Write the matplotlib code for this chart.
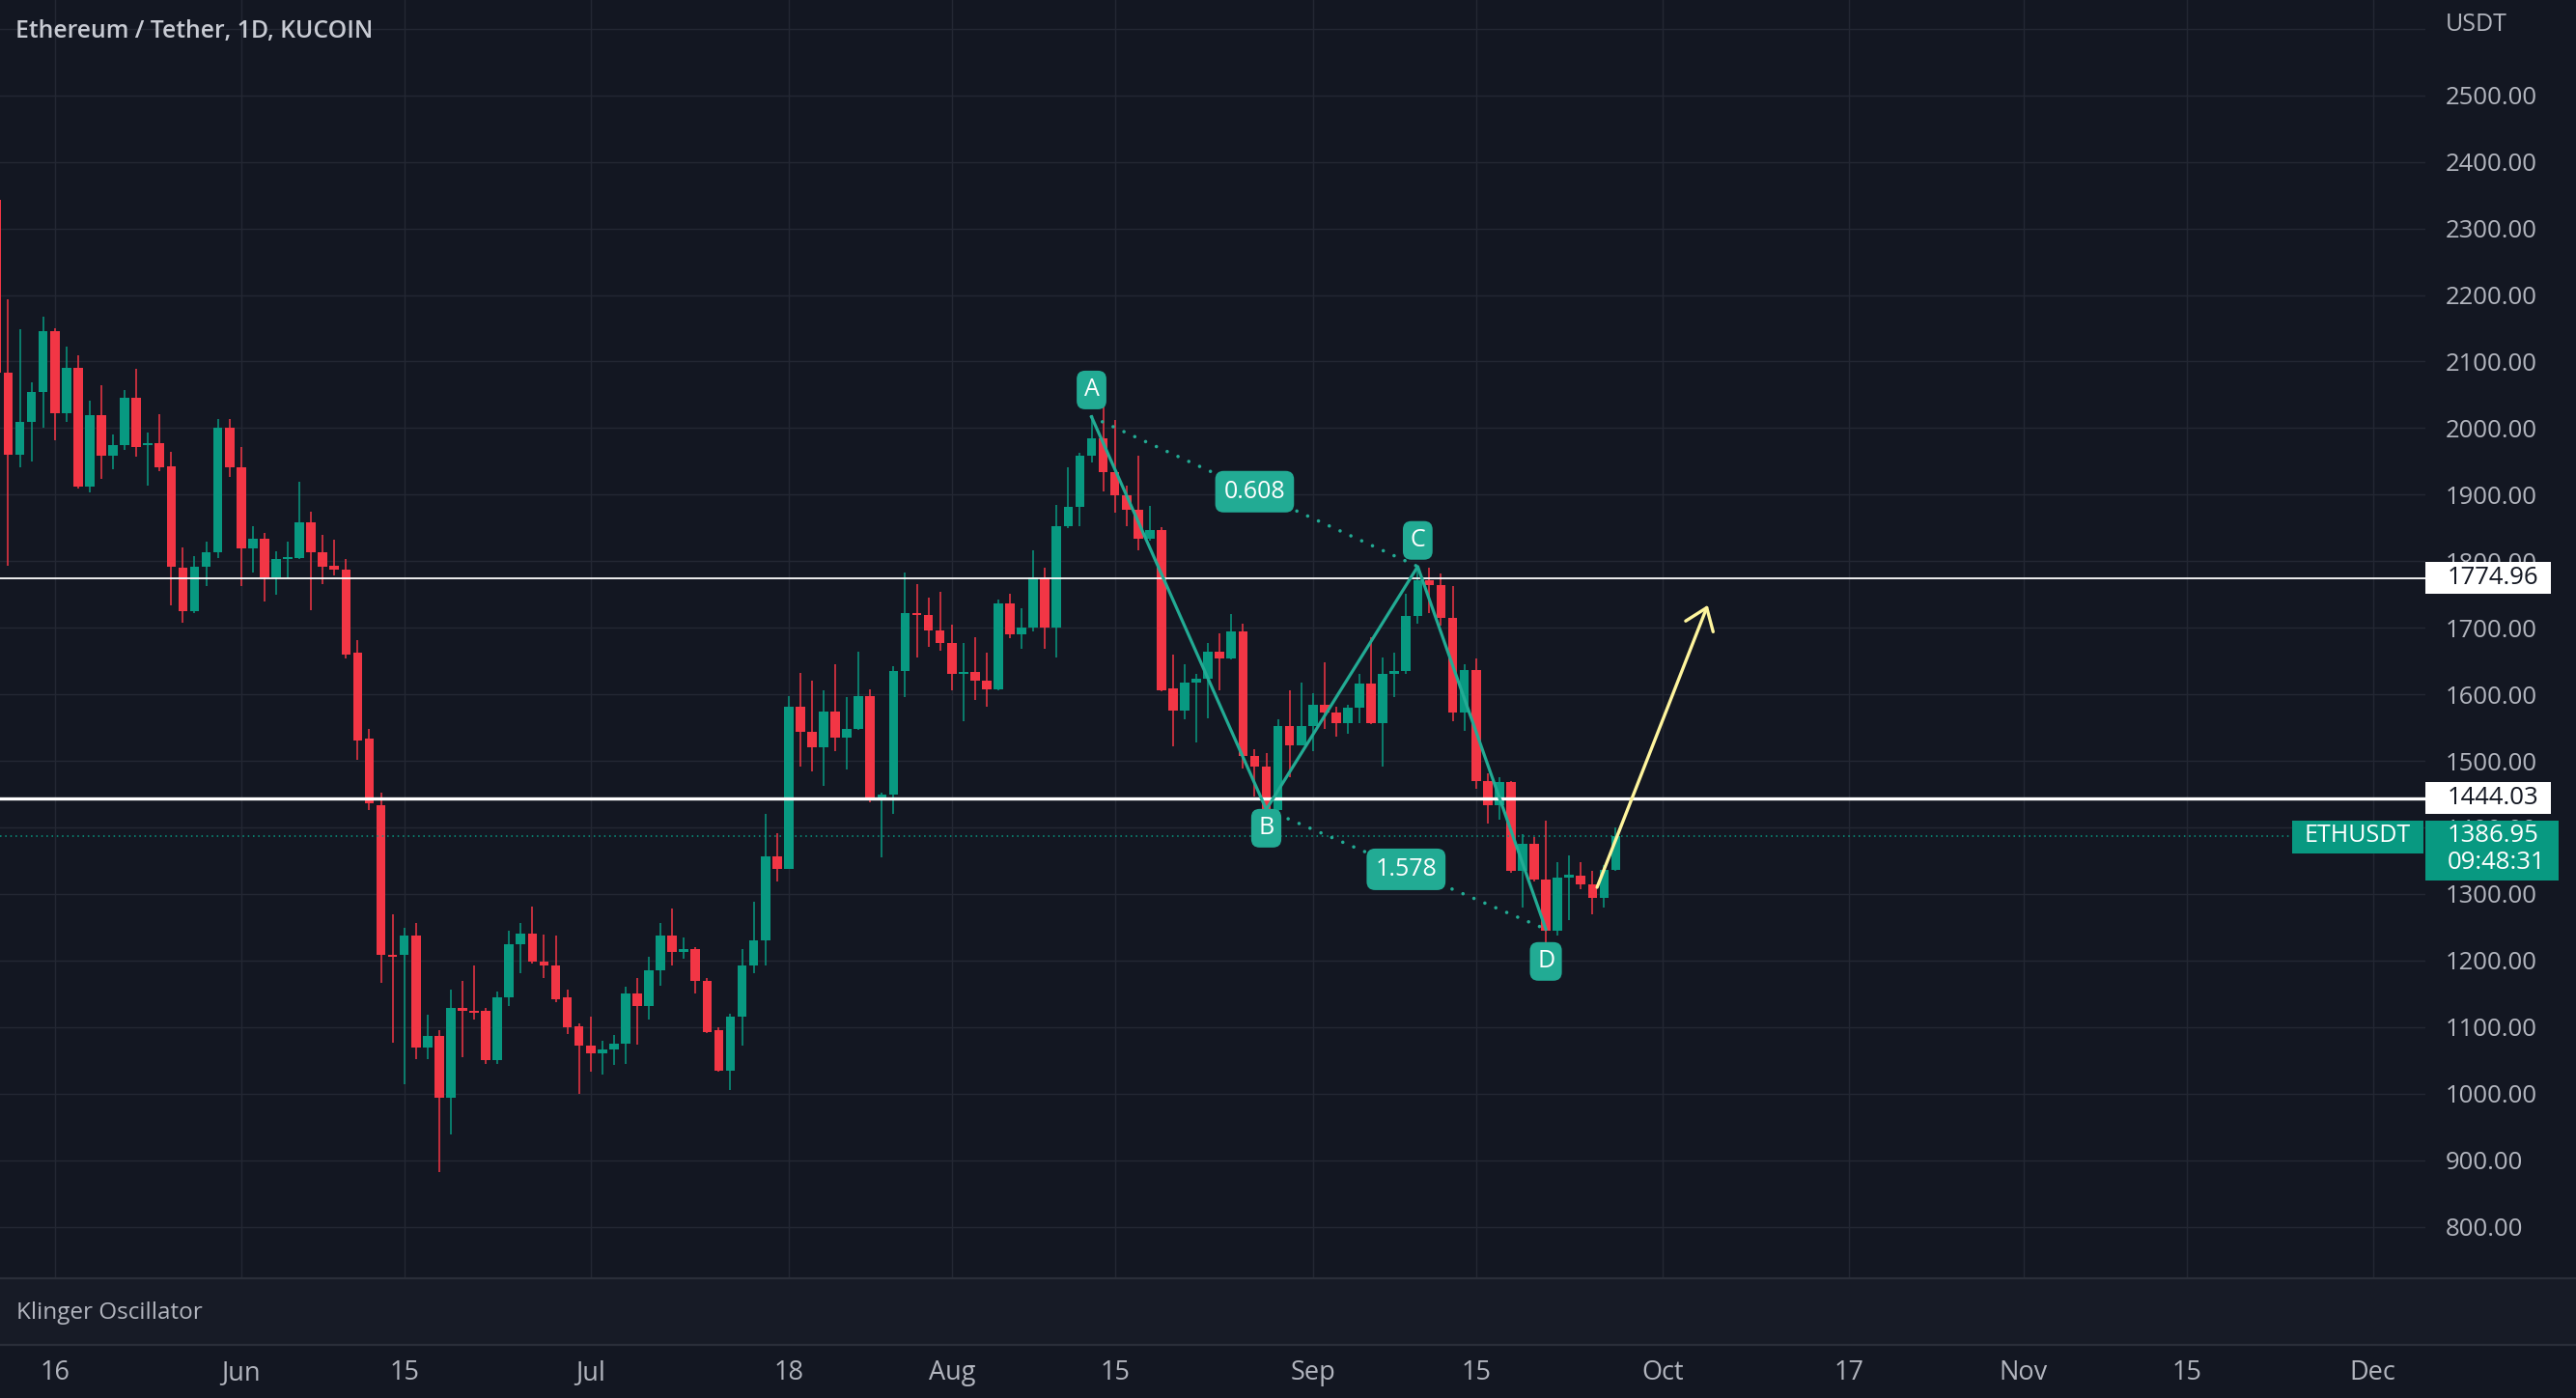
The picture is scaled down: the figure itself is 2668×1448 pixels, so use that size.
import numpy as np
import pandas as pd
import matplotlib
matplotlib.use("Agg")
import matplotlib.pyplot as plt
import matplotlib.dates as mdates
from matplotlib.patches import Rectangle
from matplotlib.lines import Line2D
from matplotlib.transforms import blended_transform_factory

plt.rcParams['font.family'] = ['Open Sans', 'DejaVu Sans']

# ---------------- data ----------------
start_date = '2022-05-11'
opens = [2343, 2084, 1960, 2009, 2055, 2145, 2023, 2091, 1912, 2020, 1958, 1975, 2045, 1974, 1978, 1943, 1790, 1725, 1792, 1813, 2000,
         1941, 1819, 1834, 1776, 1803, 1805, 1858, 1813, 1793, 1788, 1662, 1533, 1434, 1208, 1208, 1237, 1069, 1086, 994, 1128,
         1124, 1125, 1050, 1145, 1225, 1240, 1199, 1193, 1145, 1101,
         1072, 1060, 1067, 1075, 1150, 1132, 1185, 1237, 1213, 1217, 1169, 1096, 1035, 1115, 1193, 1230, 1356, 1337, 1582, 1543,
         1520, 1574, 1535, 1548, 1598, 1441, 1449, 1635, 1722, 1719, 1696,
         1677, 1630, 1634, 1620, 1608, 1737, 1690, 1700, 1776, 1701, 1853, 1881, 1958, 1984, 1934, 1899, 1878, 1834, 1847, 1609,
         1575, 1618, 1624, 1664, 1654, 1695, 1507, 1491, 1426, 1552, 1523,
         1552, 1584, 1572, 1557, 1580, 1616, 1557, 1630, 1635, 1717, 1772, 1764, 1715, 1572, 1637, 1470, 1433, 1468, 1334, 1376,
         1322, 1245, 1324, 1327, 1315, 1294, 1336]
highs = [2452, 2193, 2148, 2069, 2167, 2150, 2122, 2109, 2041, 2064, 1991, 2057, 2089, 1994, 2021, 1965, 1821, 1808, 1829, 2014, 2014,
         1972, 1853, 1842, 1815, 1829, 1919, 1875, 1839, 1832, 1803, 1682, 1548, 1452, 1269, 1249, 1256, 1118, 1096, 1157, 1169,
         1193, 1128, 1154, 1245, 1256, 1281, 1239, 1237, 1157, 1106,
         1116, 1079, 1088, 1161, 1174, 1205, 1256, 1278, 1234, 1220, 1174, 1099, 1120, 1217, 1288, 1421, 1392, 1598, 1632, 1620,
         1606, 1645, 1596, 1664, 1608, 1452, 1643, 1783, 1766, 1745, 1754,
         1705, 1677, 1686, 1663, 1742, 1751, 1730, 1817, 1790, 1884, 1941, 1963, 2018, 2033, 2012, 1914, 1958, 1883, 1851, 1659,
         1645, 1630, 1677, 1691, 1720, 1706, 1518, 1512, 1562, 1606, 1618,
         1601, 1648, 1582, 1584, 1630, 1686, 1656, 1662, 1751, 1792, 1790, 1782, 1762, 1645, 1654, 1481, 1475, 1470, 1390, 1386,
         1410, 1348, 1358, 1348, 1335, 1343, 1400]
lows = [2030, 1793, 1941, 1950, 2001, 1982, 2009, 1909, 1904, 1924, 1938, 1967, 1957, 1914, 1936, 1734, 1708, 1722, 1763, 1805, 1926,
        1763, 1783, 1739, 1750, 1774, 1803, 1726, 1766, 1779, 1654, 1501, 1426, 1166, 1077, 1014, 1052, 1052, 882, 938, 1055,
        1111, 1045, 1045, 1132, 1181, 1196, 1174, 1138, 1089, 999,
        1033, 1028, 1043, 1045, 1074, 1111, 1162, 1193, 1203, 1151, 1091, 1033, 1006, 1072, 1181, 1193, 1319, 1337, 1492, 1484,
        1463, 1515, 1487, 1546, 1438, 1355, 1421, 1596, 1656, 1672, 1666,
        1606, 1560, 1591, 1582, 1606, 1685, 1669, 1695, 1669, 1656, 1850, 1853, 1948, 1905, 1873, 1852, 1817, 1831, 1604, 1522,
        1562, 1528, 1564, 1606, 1652, 1489, 1446, 1423, 1421, 1475, 1523,
        1514, 1548, 1536, 1541, 1557, 1555, 1491, 1596, 1630, 1706, 1722, 1703, 1559, 1545, 1458, 1406, 1412, 1332, 1279, 1319,
        1220, 1237, 1261, 1307, 1270, 1280, 1334]
closes = [2084, 1960, 2009, 2055, 2145, 2023, 2091, 1912, 2020, 1958, 1975, 2045, 1972, 1977, 1941, 1792, 1725, 1792, 1813, 2000, 1941,
          1819, 1834, 1776, 1803, 1806, 1858, 1813, 1792, 1788, 1659, 1531, 1436, 1208, 1206, 1237, 1069, 1086, 994, 1128, 1124,
          1122, 1050, 1145, 1225, 1240, 1198, 1193, 1142, 1099, 1072,
          1060, 1067, 1075, 1150, 1132, 1185, 1237, 1213, 1217, 1169, 1093, 1035, 1115, 1193, 1230, 1356, 1337, 1582, 1543, 1520,
          1574, 1535, 1548, 1598, 1441, 1449, 1635, 1722, 1719, 1696, 1677,
          1630, 1634, 1620, 1608, 1737, 1690, 1700, 1776, 1701, 1853, 1881, 1958, 1984, 1934, 1899, 1878, 1834, 1847, 1606, 1575,
          1618, 1624, 1664, 1654, 1695, 1507, 1491, 1426, 1552, 1523, 1552,
          1584, 1572, 1557, 1580, 1616, 1557, 1630, 1635, 1717, 1772, 1764, 1715, 1572, 1637, 1470, 1433, 1468, 1334, 1376, 1322,
          1245, 1324, 1329, 1315, 1294, 1336, 1386.95]

time_tick_dates = ['2022-05-16', '2022-06-01', '2022-06-15', '2022-07-01', '2022-07-18', '2022-08-01', '2022-08-15',
                   '2022-09-01', '2022-09-15', '2022-10-01', '2022-10-17', '2022-11-01', '2022-11-15', '2022-12-01']
time_tick_labels = ['16', 'Jun', '15', 'Jul', '18', 'Aug', '15', 'Sep', '15', 'Oct', '17', 'Nov', '15', 'Dec']
price_ticks = list(range(800, 2700, 100))

level_prices = [1774.96, 1444.03]
last_price = 1386.95
countdown = '09:48:31'
symbol = 'ETHUSDT'

pattern_dates = ['2022-08-13', '2022-08-28', '2022-09-10', '2022-09-21']
pattern_prices = [2017, 1427, 1792, 1247]
pattern_labels = ['A', 'B', 'C', 'D']
ratio_labels = ['0.608', '1.578']
arrow_dates = ['2022-09-25 09:30', '2022-10-04 21:30']
arrow_prices = [1310, 1734]

title = 'Ethereum / Tether, 1D, KUCOIN'

# ---------------- style ----------------
BG = '#131722'
BG2 = '#171b26'
GRID = '#232733'
TXT = '#b2b5be'
UP = '#089981'
DN = '#f23645'
PAT = '#22ab94'
W, H = 2668, 1448
AX_R = 2512
MAIN_B = 1324
AXFS = 18.5

fig = plt.figure(figsize=(W / 100, H / 100), dpi=100, facecolor=BG)

ax = fig.add_axes([0, 1 - MAIN_B / H, AX_R / W, MAIN_B / H])
ax.set_facecolor(BG)
ax_k = fig.add_axes([0, 55 / H, 1, 69 / H])
ax_k.set_facecolor(BG2)
ax_k.set_xticks([]); ax_k.set_yticks([])
for s in ax_k.spines.values():
    s.set_visible(False)
ax_t = fig.add_axes([0, 0, AX_R / W, 55 / H])
ax_t.set_facecolor(BG)
ax_t.axis('off')

dates = pd.date_range(start_date, periods=len(opens), freq='D')
x = mdates.date2num(dates)
o = np.array(opens, float); h = np.array(highs, float)
l = np.array(lows, float); c = np.array(closes, float)
up = c >= o
cols = np.where(up, UP, DN)
bottoms = np.minimum(o, c)
heights = np.maximum(np.abs(c - o), 2.5)

x0 = mdates.date2num(pd.Timestamp('2022-05-16'))
xlim = (x0 - 4.7, x0 + 203.5)
ax.set_xlim(*xlim)
ax_t.set_xlim(*xlim)
ax.set_ylim(722.5, 2643.3)

ax.vlines(x, l, h, colors=cols, lw=1.1, zorder=2)
ax.bar(x, heights, bottom=bottoms, width=0.8, color=cols, lw=0, zorder=3)

# grid / ticks
tick_x = mdates.date2num(pd.to_datetime(time_tick_dates))
ax.set_xticks(tick_x)
ax.set_yticks(price_ticks)
ax.set_yticklabels([f'{v:.2f}' if v <= 2500 else '' for v in price_ticks])
ax.yaxis.tick_right()
ax.tick_params(axis='y', length=0, pad=15, labelsize=AXFS, labelcolor=TXT)
ax.tick_params(axis='x', length=0, labelbottom=False)
ax.grid(True, color=GRID, lw=1.0, zorder=0)
for s in ax.spines.values():
    s.set_visible(False)

for tx, tl in zip(tick_x, time_tick_labels):
    ax_t.text(tx, 0.47, tl, transform=ax_t.get_xaxis_transform(), ha='center', va='center',
              fontsize=19.5, color=TXT)

# horizontal levels
ax.axhline(level_prices[0], color='white', lw=1.3, zorder=4)
ax.axhline(level_prices[1], color='white', lw=2.4, zorder=4)
ax.axhline(last_price, color=UP, lw=1.1, ls=(0, (1, 2.5)), zorder=4)

# harmonic pattern
px = mdates.date2num(pd.to_datetime(pattern_dates))
pp = np.array(pattern_prices, float)
ax.plot(px, pp, color=PAT, lw=2.3, zorder=6, solid_joinstyle='round')
dot_ls = (0, (0.01, 3.4))
ax.plot(px[[0, 2]], pp[[0, 2]], color=PAT, lw=2.6, ls=dot_ls, dash_capstyle='round', zorder=6)
ax.plot(px[[1, 3]], pp[[1, 3]], color=PAT, lw=2.6, ls=dot_ls, dash_capstyle='round', zorder=6)
label_offsets = [20, -14, 19.5, -24]
for xx, yy, lab, off in zip(px, pp, pattern_labels, label_offsets):
    ax.annotate(lab, (xx, yy), xytext=(0, off), textcoords='offset points', ha='center', va='center',
                fontsize=18, color='white', zorder=8,
                bbox=dict(boxstyle='round,pad=0.3,rounding_size=0.35', fc=PAT, ec='none'))
for (i, j), rl in zip([(0, 2), (1, 3)], ratio_labels):
    ax.text((px[i] + px[j]) / 2, (pp[i] + pp[j]) / 2, rl, ha='center', va='center', fontsize=18,
            color='white', zorder=8,
            bbox=dict(boxstyle='round,pad=0.36,rounding_size=0.35', fc=PAT, ec='none'))

# projected arrow
ax_x = mdates.date2num(pd.to_datetime(arrow_dates))
ax.annotate('', xy=(ax_x[1], arrow_prices[1]), xytext=(ax_x[0], arrow_prices[0]),
            arrowprops=dict(arrowstyle='->,head_length=0.75,head_width=0.55', color='#fff59d', lw=2.4,
                            shrinkA=0, shrinkB=0, mutation_scale=20), zorder=7)

# price axis boxes
bt = blended_transform_factory(ax.transAxes, ax.transData)
px_per_usd = (MAIN_B / (2643.3 - 722.5))
def usd(pix):
    return pix / px_per_usd

for lv in level_prices:
    ax.add_patch(Rectangle((1.0, lv - usd(16.5)), 130 / AX_R, usd(33), transform=bt, fc='white', ec='none',
                           clip_on=False, zorder=9))
    ax.text(1.0 + 23 / AX_R, lv, f'{lv:.2f}', transform=bt, ha='left', va='center', fontsize=AXFS,
            color='#131722', zorder=10, clip_on=False)

ax.add_patch(Rectangle((1.0, last_price - usd(46)), 138 / AX_R, usd(62), transform=bt, fc=UP, ec='none',
                       clip_on=False, zorder=9))
ax.text(1.0 + 23 / AX_R, last_price, f'{last_price:.2f}', transform=bt, ha='left', va='center', fontsize=AXFS,
        color='white', zorder=10, clip_on=False)
ax.text(1.0 + 23 / AX_R, last_price - usd(28), countdown, transform=bt, ha='left', va='center', fontsize=AXFS,
        color='white', zorder=10, clip_on=False)
ax.add_patch(Rectangle(((AX_R - 138) / AX_R, last_price - usd(18)), 136 / AX_R, usd(34), transform=bt, fc=UP,
                       ec='none', clip_on=False, zorder=9))
ax.text((AX_R - 70) / AX_R, last_price, symbol, transform=bt, ha='center', va='center', fontsize=18,
        color='white', zorder=10, clip_on=False)

# texts
fig.text(16 / W, 1 - 32 / H, title, ha='left', va='center', fontsize=17.8, color='#c8cbd3', fontweight='semibold')
fig.text(2533 / W, 1 - 26 / H, 'USDT', ha='left', va='center', fontsize=18, color=TXT)
fig.text(17 / W, 1 - 1360 / H, 'Klinger Oscillator', ha='left', va='center', fontsize=17.5, color=TXT)

# pane separators
for yy in (MAIN_B, 1393):
    fig.add_artist(Line2D([0, 1], [1 - yy / H, 1 - yy / H], transform=fig.transFigure, color='#2a2e39', lw=1.6))

fig.savefig('out.png', dpi=100, facecolor=BG)
